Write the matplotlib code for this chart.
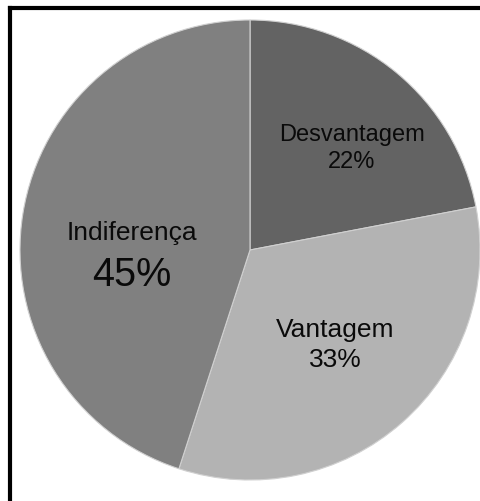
import matplotlib
matplotlib.use("Agg")
import matplotlib.pyplot as plt
from matplotlib.lines import Line2D

plt.rcParams['font.family'] = ['Liberation Sans', 'DejaVu Sans']

categories = ["Desvantagem", "Vantagem", "Indiferença"]
shares = [22, 33, 45]
colors = ["#636363", "#b3b3b3", "#808080"]

# label placement (data units): x, y of name line, y of percentage line
label_x = [0.443, 0.37, -0.515]
name_y = [0.504, -0.343, 0.078]
pct_y = [0.387, -0.474, -0.104]
name_sizes = [17, 19, 19]
pct_sizes = [17, 19, 28.5]

W, H = 481, 502
fig = plt.figure(figsize=(W / 100, H / 100), dpi=100)
cx, cy, r = 250, 251, 230
ax = fig.add_axes([(cx - r) / W, (H - cy - r) / H, 2 * r / W, 2 * r / H])

ax.pie(shares, colors=colors, startangle=90, counterclock=False, radius=1,
       wedgeprops=dict(edgecolor="#d0d0d0", linewidth=0.8))
ax.set_xlim(-1, 1)
ax.set_ylim(-1, 1)
ax.set_aspect("auto")
ax.axis("off")

for name, val, x, ny, py, ns, ps in zip(categories, shares, label_x, name_y, pct_y,
                                         name_sizes, pct_sizes):
    ax.text(x, ny, name, ha="center", va="center", fontsize=ns, color="#0a0a0a")
    ax.text(x, py, f"{val}%", ha="center", va="center", fontsize=ps, color="#0a0a0a")

# frame edges
fig.add_artist(Line2D([10 / W, 1], [1 - 9 / H, 1 - 9 / H], color="black", lw=3,
                      transform=fig.transFigure, solid_capstyle="projecting"))
fig.add_artist(Line2D([10 / W, 10 / W], [0, 1 - 9 / H], color="black", lw=3,
                      transform=fig.transFigure, solid_capstyle="projecting"))

fig.savefig("out.png", dpi=100, facecolor="white")
